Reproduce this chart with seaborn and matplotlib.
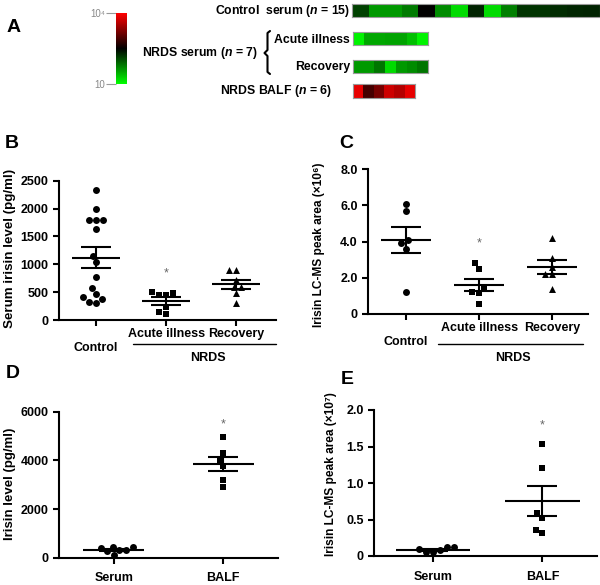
import numpy as np
import pandas as pd
import matplotlib
matplotlib.use("Agg")
import matplotlib.pyplot as plt
from matplotlib.colors import LinearSegmentedColormap
from matplotlib.lines import Line2D
import seaborn as sns

sns.set_theme(style="ticks", rc={
    "text.color": "black", "axes.labelcolor": "black",
    "xtick.color": "black", "ytick.color": "black", "axes.edgecolor": "black",
})
plt.rcParams["font.family"] = ["Liberation Sans", "DejaVu Sans"]
plt.rcParams["font.weight"] = "bold"
plt.rcParams["mathtext.fontset"] = "custom"
plt.rcParams["mathtext.it"] = "Liberation Sans:italic:bold"
plt.rcParams["mathtext.rm"] = "Liberation Sans:bold"

# ---- data ----
# panel A: log10 irisin level per sample (heatmap rows)
control_serum = [2.12, 1.6, 1.6, 1.78, 2.5, 1.68, 1.22, 2.3, 1.22, 1.75, 2.2, 2.2, 2.25, 2.28, 2.3]
acute_serum = [1.08, 1.52, 1.52, 1.55, 1.55, 1.38, 1.08]
recovery_serum = [1.6, 1.6, 1.82, 1.22, 1.6, 1.68, 1.82]
balf_row = [3.85, 2.9, 3.2, 3.7, 3.55, 3.85]

# panel B: serum irisin (pg/ml)
b_groups = ["Control", "Acute illness", "Recovery"]
b_control = [2330, 2000, 1800, 1800, 1800, 1630, 1150, 1040, 780, 570, 470, 370, 300, 330, 410]
b_acute = [510, 450, 450, 480, 240, 150, 100]
b_recovery = [900, 900, 720, 600, 600, 480, 310]

# panel C: LC-MS peak area (x10^6)
c_control = [6.1, 5.7, 3.9, 3.6, 4.1, 1.2]
c_acute = [2.8, 2.5, 1.15, 1.2, 1.45, 0.55]
c_recovery = [4.2, 3.1, 2.6, 2.2, 2.2, 1.4]

# panel D: irisin (pg/ml)
de_groups = ["Serum", "BALF"]
d_serum = [460, 430, 390, 330, 310, 260, 120]
d_balf = [4950, 4300, 4000, 3750, 3200, 2900]

# panel E: LC-MS peak area (x10^7)
e_serum = [0.12, 0.08, 0.05, 0.06, 0.09, 0.12]
e_balf = [1.54, 1.21, 0.59, 0.52, 0.31, 0.36]

W, H = 600, 585
fig = plt.figure(figsize=(6, 5.85), dpi=100)


def fx(x):
    return x / W


def fy(y):
    return 1 - y / H


def add_ax(x0, y0, x1, y1):
    return fig.add_axes([x0 / W, 1 - y1 / H, (x1 - x0) / W, (y1 - y0) / H])


####
# A: heatmap
####
cmap = LinearSegmentedColormap.from_list("gbr", ["#00ff00", "#000000", "#ff0000"])
rows = [
    (control_serum, (352, 4, 600, 17)),
    (acute_serum, (353, 32, 428, 45)),
    (recovery_serum, (353, 60, 428, 73)),
    (balf_row, (353, 84, 415, 98)),
]
cax = add_ax(116, 13, 127, 84)
for i, (vals, rect) in enumerate(rows):
    ax = add_ax(*rect)
    last = i == len(rows) - 1
    sns.heatmap(np.array([vals]), ax=ax, cmap=cmap, vmin=1, vmax=4,
                cbar=last, cbar_ax=cax if last else None,
                xticklabels=False, yticklabels=False)
    for s in ax.spines.values():
        s.set_visible(True)
        s.set_color("#9a9a9a")
        s.set_linewidth(0.8)

cbar = fig.axes[-1].collections[0].colorbar
cbar.set_ticks([1, 4])
cbar.set_ticklabels(["10", "10\u2074"])
cbar.outline.set_visible(False)
cax.yaxis.set_ticks_position("left")
cax.tick_params(length=7, width=0.8, color="#999999", labelsize=7, labelcolor="#888888", pad=1)
for t in cax.get_yticklabels():
    t.set_fontweight("normal")

fs_a = 8.8
fig.text(fx(350), fy(11), r"Control  serum ($\mathit{n}$ = 15)", ha="right", va="center", fontsize=fs_a)
fig.text(fx(350), fy(40), "Acute illness", ha="right", va="center", fontsize=fs_a)
fig.text(fx(350), fy(67), "Recovery", ha="right", va="center", fontsize=fs_a)
fig.text(fx(258), fy(53), r"NRDS serum ($\mathit{n}$ = 7)", ha="right", va="center", fontsize=fs_a)
fig.text(fx(332), fy(91), r"NRDS BALF ($\mathit{n}$ = 6)", ha="right", va="center", fontsize=fs_a)
brace_x = [270, 267.5, 267.5, 264.5, 267.5, 267.5, 270]
brace_y = [31, 33, 50, 53, 56, 72, 74]
fig.add_artist(Line2D([fx(v) for v in brace_x], [fy(v) for v in brace_y], color="black", lw=1.5))


####
# scatter panels
####
def dot_panel(ax, groups, values, markers, ylim, yticks, yticklabels, half, star):
    df = pd.DataFrame({
        "group": np.repeat(groups, [len(v) for v in values]),
        "value": np.concatenate(values),
    })
    ax.set_ylim(*ylim)
    for g, m in zip(groups, markers):
        sns.swarmplot(data=df[df["group"] == g], x="group", y="value", order=groups,
                      marker=m, color="black", size=5, linewidth=0, ax=ax)
    stats = df.groupby("group")["value"].agg(["mean", "sem"]).reindex(groups)
    pos = np.arange(len(groups))
    ax.hlines(stats["mean"], pos - half, pos + half, color="black", lw=1.5, zorder=3)
    ax.errorbar(pos, stats["mean"], yerr=stats["sem"], fmt="none", ecolor="black",
                elinewidth=1.5, capsize=11, capthick=1.5, zorder=3)
    ax.text(star[0], star[1], "*", ha="center", va="center", fontsize=9,
            color="#666666", fontweight="normal")
    ax.set_ylim(*ylim)
    ax.set_yticks(yticks)
    ax.set_yticklabels(yticklabels)
    ax.set_xlabel("")
    ax.set_ylabel("")
    sns.despine(ax=ax)
    for s in ("left", "bottom"):
        ax.spines[s].set_linewidth(1.5)
    ax.tick_params(length=4, width=1.5, labelsize=9)


axB = add_ax(59, 180.7, 276, 320)
dot_panel(axB, b_groups, [b_control, b_acute, b_recovery], ["o", "s", "^"],
          (0, 2500), [0, 500, 1000, 1500, 2000, 2500],
          ["0", "500", "1000", "1500", "2000", "2500"], 0.34, (1, 840))
axB.set_xlim(-0.53, 2.57)
axB.set_xticks([0, 1, 2])
axB.set_xticklabels(["\nControl", "Acute illness", "Recovery"], fontsize=9)
axB.tick_params(axis="x", pad=2)

axC = add_ax(368, 169.3, 588, 314)
dot_panel(axC, b_groups, [c_control, c_acute, c_recovery], ["o", "s", "^"],
          (0, 8), [0, 2, 4, 6, 8], ["0", "2.0", "4.0", "6.0", "8.0"], 0.34, (1, 3.9))
axC.set_xlim(-0.52, 2.49)
axC.set_xticks([0, 1, 2])
axC.set_xticklabels(["\nControl", "Acute illness", "Recovery"], fontsize=9)
axC.tick_params(axis="x", pad=2)

axD = add_ax(59, 411.7, 278, 557.7)
dot_panel(axD, de_groups, [d_serum, d_balf], ["o", "s"],
          (0, 6000), [0, 2000, 4000, 6000], ["0", "2000", "4000", "6000"], 0.28, (1, 5480))
axD.set_xlim(-0.5, 1.5)
axD.set_xticks([0, 1])
axD.set_xticklabels(de_groups, fontsize=9)
axD.tick_params(axis="x", pad=6.5)

axE = add_ax(374, 410, 597, 556)
dot_panel(axE, de_groups, [e_serum, e_balf], ["o", "s"],
          (0, 2), [0, 0.5, 1.0, 1.5, 2.0], ["0", "0.5", "1.0", "1.5", "2.0"], 0.34, (1, 1.79))
axE.set_xlim(-0.54, 1.5)
axE.set_xticks([0, 1])
axE.set_xticklabels(de_groups, fontsize=9)
axE.tick_params(axis="x", pad=6.5)

# NRDS group brackets
for x0, x1, xc in [(133, 276, 208), (438, 583, 513)]:
    fig.add_artist(Line2D([fx(x0), fx(x1)], [fy(344), fy(344)], color="black", lw=1))
    fig.text(fx(xc), fy(358), "NRDS", ha="center", va="center", fontsize=9)

# y labels
fig.text(fx(10), fy(248), "Serum irisin level (pg/ml)", rotation=90, ha="center", va="center", fontsize=9.6)
fig.text(fx(319), fy(245), "Irisin LC-MS peak area (\u00d710\u2076)", rotation=90, ha="center", va="center", fontsize=8.6)
fig.text(fx(10), fy(484), "Irisin level (pg/ml)", rotation=90, ha="center", va="center", fontsize=9.5)
fig.text(fx(331), fy(474), "Irisin LC-MS peak area (\u00d710\u2077)", rotation=90, ha="center", va="center", fontsize=8.6)

# panel letters
for lab, x, y in [("A", 14, 28), ("B", 12, 143), ("C", 346, 143), ("D", 13, 373), ("E", 347, 379)]:
    fig.text(fx(x), fy(y), lab, ha="center", va="center", fontsize=14)

fig.savefig("out.png", dpi=100)
